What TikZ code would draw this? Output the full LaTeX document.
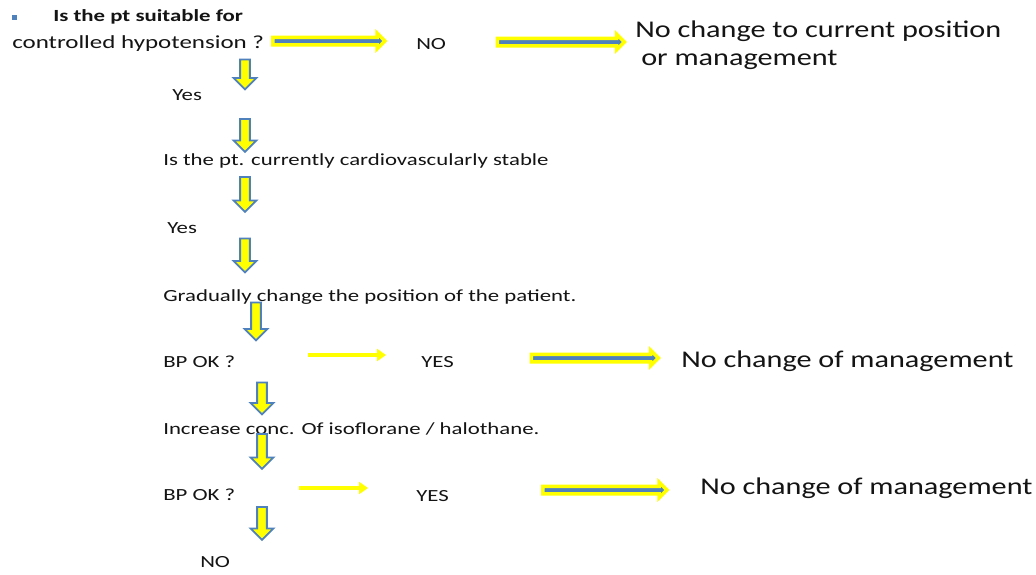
\documentclass[tikz,border=0pt]{standalone}
\usepackage{fontspec}
\setmainfont{Carlito}
\usetikzlibrary{shapes.arrows,arrows.meta}
\definecolor{dblue}{RGB}{79,129,189}
\definecolor{dyel}{RGB}{255,255,0}
\definecolor{dtext}{RGB}{20,20,20}
\tikzset{
  lbl/.style={anchor=west,inner sep=0pt,text=dtext,font=\fontsize{17}{19}\selectfont,xscale=1.34},
  lblb/.style={lbl,font=\fontsize{17}{19}\selectfont\bfseries},
  lbll/.style={anchor=west,inner sep=0pt,text=dtext,font=\fontsize{18.5}{20}\selectfont,xscale=1.35},
  big/.style={anchor=west,inner sep=0pt,text=dtext,font=\fontsize{24}{26}\selectfont,xscale=1.26},
  downarr/.style={single arrow,draw=dblue,fill=dyel,line width=1.8pt,rotate=-90,
    minimum width=23pt,single arrow head extend=6pt,single arrow tip angle=90,
    inner xsep=0pt,inner ysep=3.5pt,anchor=center},
  glowarr/.style={single arrow,draw=dyel,fill=dblue,line width=3.5pt,
    minimum width=13pt,single arrow head extend=4pt,single arrow tip angle=90,
    inner xsep=0pt,inner ysep=2pt,anchor=center},
  yelA/.style={draw=dyel,line width=3.5pt,-{Triangle[length=9pt,width=12pt]}},
}
\begin{document}
\begin{tikzpicture}[x=1pt,y=-1pt]
\useasboundingbox (0,0) rectangle (1036,574);
\fill[white] (0,0) rectangle (1036,574);
% bullet
\node[fill=dblue,minimum width=5pt,minimum height=5pt,inner sep=0pt] (bul) at (14,17) {};
% texts
\node[lblb] (t1a) at (53,17) {Is the pt suitable for};
\node[lbll] (t1b) at (12,44) {controlled hypotension ?};
\node[lbl] (no1) at (416,44) {NO};
\node[big] (r1a) at (635,31) {No change to current position};
\node[big] (r1b) at (641,60) {or management};
\node[lbl] (yes1) at (172,95) {Yes};
\node[lbl] (t2) at (163,161) {Is the pt. currently cardiovascularly stable};
\node[lbl] (yes2) at (167,228) {Yes};
\node[lbl] (t3) at (163,297) {Gradually change the position of the patient.};
\node[lbl] (bp1) at (163,362) {BP OK ?};
\node[lbl] (yes3) at (421,362) {YES};
\node[big] (r2) at (681,361) {No change of management};
\node[lbl] (t4) at (163,429) {Increase conc. Of isoflorane / halothane.};
\node[lbl] (bp2) at (163,495) {BP OK ?};
\node[lbl] (yes4) at (416,496) {YES};
\node[big] (r3) at (700,488) {No change of management};
\node[lbl] (no2) at (200,562) {NO};
% horizontal glow arrows
\node[glowarr,minimum height=112pt] (a1) at (327,41) {};
\node[glowarr,minimum height=127pt] (a2) at (559,42) {};
\node[glowarr,minimum height=127pt] (a4) at (593,358) {};
\node[glowarr,minimum height=124pt] (a6) at (603,490) {};
% small yellow arrows
\coordinate (a3s) at (308,355); \coordinate (a3e) at (386,355);
\coordinate (a5s) at (299,488); \coordinate (a5e) at (368,488);
\draw[yelA] (a3s) -- (a3e);
\draw[yelA] (a5s) -- (a5e);
% down arrows
\node[downarr,minimum height=30pt] (d1) at (245,72) {};
\node[downarr,minimum height=33pt] (d2) at (245,133) {};
\node[downarr,minimum height=35pt] (d3) at (245,192) {};
\node[downarr,minimum height=34pt] (d4) at (245,253) {};
\node[downarr,minimum height=38pt] (d5) at (256,319) {};
\node[downarr,minimum height=32pt] (d6) at (262,396) {};
\node[downarr,minimum height=35pt] (d7) at (262,449) {};
\node[downarr,minimum height=33pt] (d8) at (262,521) {};
\end{tikzpicture}
\end{document}
